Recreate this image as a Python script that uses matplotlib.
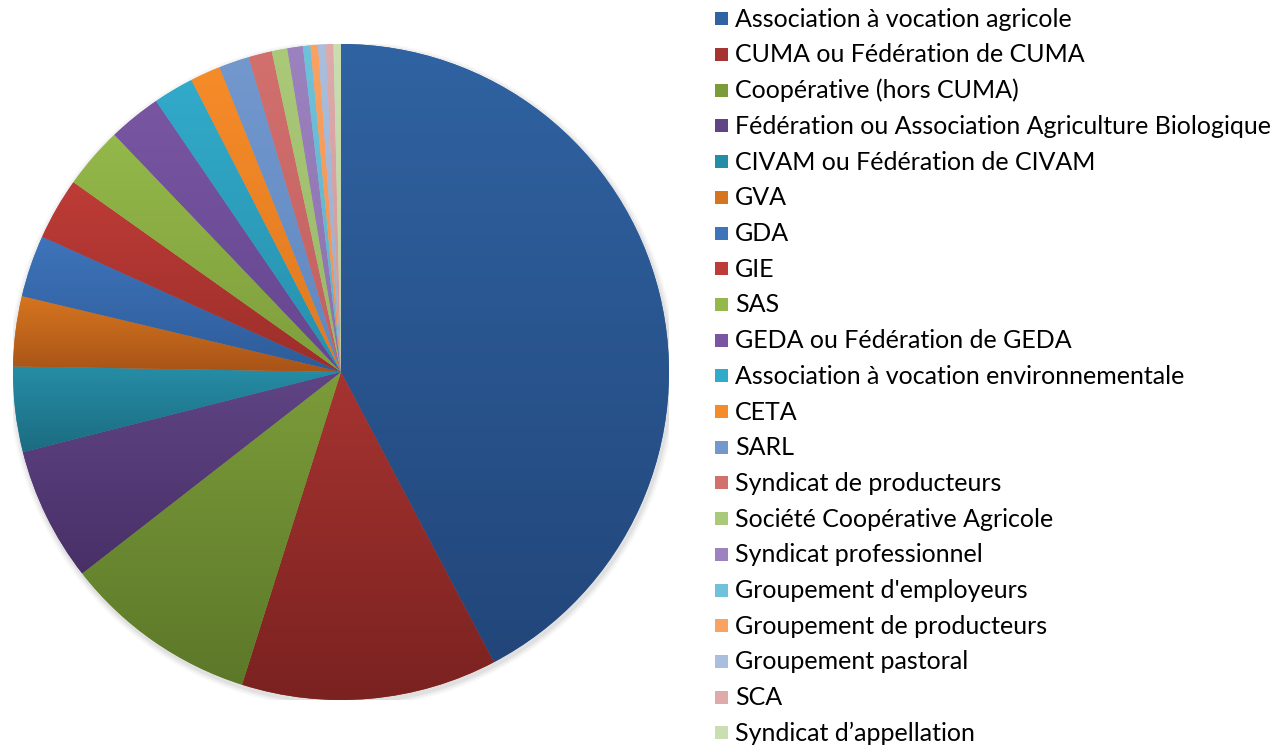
#!/usr/bin/env python3

import numpy as np
import matplotlib.pyplot as plt
from matplotlib.colors import LinearSegmentedColormap
from matplotlib.patches import Rectangle

labels = [
    "Association à vocation agricole",
    "CUMA ou Fédération de CUMA",
    "Coopérative (hors CUMA)",
    "Fédération ou Association Agriculture Biologique",
    "CIVAM ou Fédération de CIVAM",
    "GVA",
    "GDA",
    "GIE",
    "SAS",
    "GEDA ou Fédération de GEDA",
    "Association à vocation environnementale",
    "CETA",
    "SARL",
    "Syndicat de producteurs",
    "Société Coopérative Agricole",
    "Syndicat professionnel",
    "Groupement d'employeurs",
    "Groupement de producteurs",
    "Groupement pastoral",
    "SCA",
    "Syndicat d\u2019appellation",
]
# shares in percent
values = [42.3, 12.6, 9.6, 6.6, 4.2, 3.45, 3.05, 3.05, 3.05, 2.6, 2.0,
          1.5, 1.5, 1.15, 0.77, 0.76, 0.37, 0.37, 0.38, 0.37, 0.37]

# (top, bottom) colour of each slice's vertical gradient
top_colors = ["#3063a2", "#a63431", "#7c9c3a", "#604485", "#268da6", "#d6751f",
              "#3e74ba", "#be3c37", "#94b84a", "#7856a2", "#32aaca", "#f68b29",
              "#7298ce", "#d2706e", "#aaca7a", "#9c82be", "#70c2da", "#f9a262",
              "#aabede", "#deaaaa", "#cadeb2"]
bot_colors = ["#22467a", "#7a2220", "#5c7829", "#483067", "#1b6c80", "#a85418",
              "#2e5c9a", "#9c2e2a", "#7e9e3c", "#664690", "#2790ac", "#de7a20",
              "#6088c0", "#c06060", "#98b868", "#8a70ac", "#5cb0c8", "#f09050",
              "#98acce", "#d09898", "#b8cca0"]

W, H = 1276, 750
fig = plt.figure(figsize=(W / 100, H / 100), dpi=100)
cx, cy, r = 341, 372, 328
ax = fig.add_axes([(cx - r) / W, (H - cy - r) / H, 2 * r / W, 2 * r / H])

# soft shadow
for k, a in enumerate([0.05, 0.04, 0.03]):
    ax.add_patch(plt.Circle((0.004, -0.008), 1.0 + 0.006 * (k + 1), color="k",
                            alpha=a, lw=0, zorder=0))

wedges, _ = ax.pie(values, startangle=90, counterclock=False, radius=1.0,
                   colors=top_colors, wedgeprops=dict(linewidth=0))

grad = np.linspace(0, 1, 256).reshape(-1, 1)
for w, c0, c1 in zip(wedges, top_colors, bot_colors):
    verts = w.get_patch_transform().transform(w.get_path().vertices)
    y0, y1 = verts[:, 1].min(), verts[:, 1].max()
    x0, x1 = verts[:, 0].min(), verts[:, 0].max()
    cmap = LinearSegmentedColormap.from_list("g", [c0, c1])
    im = ax.imshow(grad, cmap=cmap, extent=(x0, x1, y0, y1), origin="upper",
                   aspect="auto", zorder=2, interpolation="bilinear")
    im.set_clip_path(w)

ax.set_xlim(-1, 1)
ax.set_ylim(-1, 1)
ax.set_aspect("equal")
ax.axis("off")

# legend, one row per category at a fixed pitch (pixels from the top)
row0, pitch, box = 18.8, 35.7, 13
for i, (lab, c0, c1) in enumerate(zip(labels, top_colors, bot_colors)):
    yc = row0 + i * pitch
    fig.add_artist(Rectangle((715 / W, 1 - (yc + box / 2) / H), box / W, box / H,
                             transform=fig.transFigure, facecolor=c0, lw=0))
    fig.text(735 / W, 1 - (yc + 8) / H, lab, family="Lato", fontsize=18,
             va="baseline", ha="left", color="#000000")

plt.savefig("out.png", dpi=100)
